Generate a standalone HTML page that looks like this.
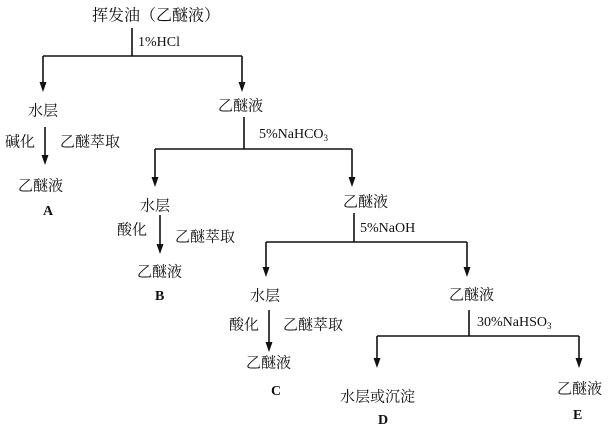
<!DOCTYPE html>
<html><head><meta charset="utf-8"><style>
html,body{margin:0;padding:0;background:#fff;}
svg{display:block}
text{font-family:"Liberation Serif","Noto Serif CJK SC",serif;font-size:15px;fill:#111;dominant-baseline:middle}
.l{font-size:14px}
</style></head><body>
<svg width="612" height="431" viewBox="0 0 612 431" xmlns="http://www.w3.org/2000/svg">
<g stroke="#111" stroke-width="1.6" fill="none">
<path d="M132,28 V56 M43,56 H242"/>
<path d="M43,56 V84"/>
<path d="M242,56 V84"/>
<path d="M45,127 V157"/>
<path d="M244,117 V149 M155,149 H352"/>
<path d="M155,149 V179"/>
<path d="M352,149 V179"/>
<path d="M160,215 V246"/>
<path d="M354,213 V242 M266,242 H467"/>
<path d="M266,242 V269"/>
<path d="M467,242 V269"/>
<path d="M269,310 V344"/>
<path d="M469,310 V336 M377,336 H579"/>
<path d="M377,336 V360"/>
<path d="M579,336 V360"/>
</g>
<g fill="#111">
<polygon points="39.5,82 46.5,82 43,92"/>
<polygon points="238.5,82 245.5,82 242,92"/>
<polygon points="41.5,155 48.5,155 45,165"/>
<polygon points="151.5,177 158.5,177 155,187"/>
<polygon points="348.5,177 355.5,177 352,187"/>
<polygon points="156.5,244 163.5,244 160,254"/>
<polygon points="262.5,267 269.5,267 266,277"/>
<polygon points="463.5,267 470.5,267 467,277"/>
<polygon points="265.5,342 272.5,342 269,352"/>
<polygon points="373.5,358 380.5,358 377,368"/>
<polygon points="575.5,358 582.5,358 579,368"/>
</g>
<text x="92" y="17" style="font-size:16px">挥发油（乙醚液）</text>
<text x="138" y="43" class="l">1%HCl</text>
<text x="28" y="112">水层</text>
<text x="218" y="107">乙醚液</text>
<text x="5" y="143">碱化</text>
<text x="60" y="143">乙醚萃取</text>
<text x="259" y="135" class="l">5%NaHCO<tspan font-size="9" dy="4">3</tspan></text>
<text x="18" y="187">乙醚液</text>
<text x="43" y="212" class="l" style="font-weight:bold">A</text>
<text x="140" y="207">水层</text>
<text x="117" y="231">酸化</text>
<text x="175" y="238">乙醚萃取</text>
<text x="137" y="273">乙醚液</text>
<text x="155" y="297" class="l" style="font-weight:bold">B</text>
<text x="343" y="203">乙醚液</text>
<text x="360" y="229" class="l">5%NaOH</text>
<text x="250" y="297">水层</text>
<text x="229" y="326">酸化</text>
<text x="283" y="326">乙醚萃取</text>
<text x="246" y="364">乙醚液</text>
<text x="271" y="392" class="l" style="font-weight:bold">C</text>
<text x="449" y="296">乙醚液</text>
<text x="477" y="323" class="l">30%NaHSO<tspan font-size="9" dy="4">3</tspan></text>
<text x="340" y="398">水层或沉淀</text>
<text x="378" y="421" class="l" style="font-weight:bold">D</text>
<text x="557" y="390">乙醚液</text>
<text x="573" y="416" class="l" style="font-weight:bold">E</text>
</svg>
</body></html>
